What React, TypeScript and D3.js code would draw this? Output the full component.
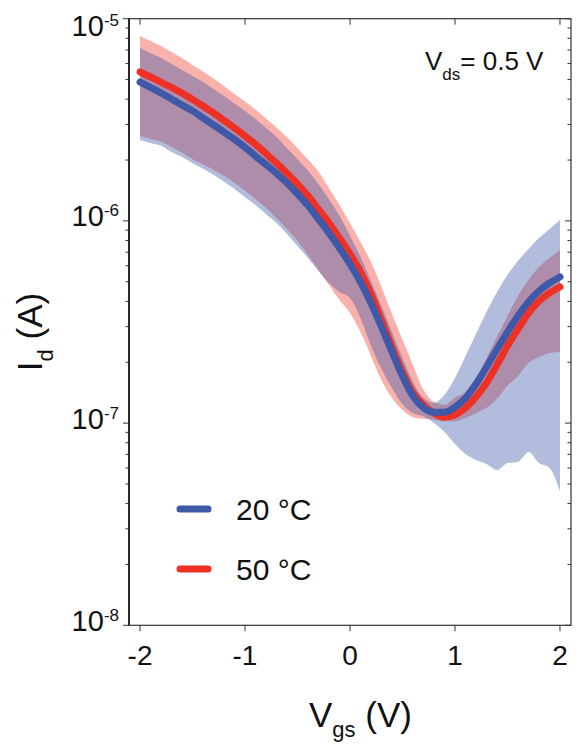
import React from "react";
import * as d3 from "d3";

// gate voltage grid (V)
const vgs = [
  -2.0, -1.9, -1.8, -1.7, -1.6, -1.5, -1.4, -1.3, -1.2, -1.1, -1.0, -0.9, -0.8, -0.7,
  -0.6, -0.5, -0.4, -0.3, -0.2, -0.1, 0.0, 0.1, 0.2, 0.3, 0.4, 0.5, 0.6, 0.7, 0.8, 0.9,
  1.0, 1.1, 1.2, 1.3, 1.4, 1.5, 1.6, 1.7, 1.8, 1.9, 2.0,
];

// 20 °C mean and spread (A)
const id20 = [
  4.86e-6, 4.57e-6, 4.29e-6, 4.01e-6, 3.74e-6, 3.5e-6, 3.23e-6, 2.98e-6, 2.75e-6, 2.53e-6,
  2.31e-6, 2.09e-6, 1.9e-6, 1.72e-6, 1.54e-6, 1.36e-6, 1.19e-6, 1.02e-6, 8.71e-7, 7.34e-7,
  6.12e-7, 4.98e-7, 3.93e-7, 2.99e-7, 2.25e-7, 1.71e-7, 1.36e-7, 1.19e-7, 1.13e-7, 1.13e-7,
  1.2e-7, 1.33e-7, 1.56e-7, 1.89e-7, 2.32e-7, 2.82e-7, 3.39e-7, 3.97e-7, 4.5e-7, 4.93e-7,
  5.28e-7,
];
const id20High = [
  7.16e-6, 6.77e-6, 6.39e-6, 5.97e-6, 5.58e-6, 5.21e-6, 4.86e-6, 4.49e-6, 4.15e-6, 3.81e-6,
  3.5e-6, 3.19e-6, 2.88e-6, 2.6e-6, 2.29e-6, 2.02e-6, 1.77e-6, 1.52e-6, 1.28e-6, 1.06e-6,
  8.42e-7, 6.63e-7, 5.04e-7, 3.79e-7, 2.82e-7, 2.1e-7, 1.6e-7, 1.33e-7, 1.26e-7, 1.38e-7,
  1.67e-7, 2.15e-7, 2.76e-7, 3.54e-7, 4.45e-7, 5.4e-7, 6.33e-7, 7.26e-7, 8.23e-7, 9.12e-7,
  1.01e-6,
];
const id20Low = [
  2.51e-6, 2.43e-6, 2.35e-6, 2.19e-6, 2.07e-6, 1.93e-6, 1.81e-6, 1.69e-6, 1.56e-6, 1.44e-6,
  1.31e-6, 1.2e-6, 1.08e-6, 9.76e-7, 8.61e-7, 7.51e-7, 6.55e-7, 5.65e-7, 4.93e-7, 4.45e-7,
  4.16e-7, 3.31e-7, 2.41e-7, 1.85e-7, 1.49e-7, 1.24e-7, 1.12e-7, 1.08e-7, 1.0e-7, 9.03e-8,
  7.88e-8, 7.03e-8, 6.57e-8, 6.27e-8, 5.86e-8, 6.34e-8, 6.42e-8, 7.19e-8, 6.34e-8, 6.0e-8,
  4.61e-8,
];

// 50 °C mean and spread (A)
const id50 = [
  5.45e-6, 5.15e-6, 4.86e-6, 4.57e-6, 4.29e-6, 3.99e-6, 3.7e-6, 3.42e-6, 3.14e-6, 2.88e-6,
  2.63e-6, 2.39e-6, 2.15e-6, 1.93e-6, 1.72e-6, 1.52e-6, 1.33e-6, 1.14e-6, 9.76e-7, 8.23e-7,
  6.86e-7, 5.59e-7, 4.35e-7, 3.23e-7, 2.38e-7, 1.79e-7, 1.41e-7, 1.23e-7, 1.12e-7, 1.07e-7,
  1.1e-7, 1.19e-7, 1.35e-7, 1.58e-7, 1.94e-7, 2.41e-7, 2.92e-7, 3.5e-7, 4.02e-7, 4.4e-7,
  4.71e-7,
];
const id50High = [
  8.21e-6, 7.76e-6, 7.33e-6, 6.85e-6, 6.39e-6, 5.9e-6, 5.48e-6, 5.06e-6, 4.65e-6, 4.24e-6,
  3.9e-6, 3.56e-6, 3.21e-6, 2.9e-6, 2.59e-6, 2.29e-6, 2.01e-6, 1.75e-6, 1.45e-6, 1.2e-6,
  9.76e-7, 7.86e-7, 6.26e-7, 4.71e-7, 3.46e-7, 2.58e-7, 1.94e-7, 1.46e-7, 1.27e-7, 1.23e-7,
  1.34e-7, 1.42e-7, 1.67e-7, 2.1e-7, 2.67e-7, 3.39e-7, 4.25e-7, 5.1e-7, 5.91e-7, 6.55e-7,
  7.18e-7,
];
const id50Low = [
  2.63e-6, 2.54e-6, 2.46e-6, 2.32e-6, 2.17e-6, 2.02e-6, 1.9e-6, 1.79e-6, 1.67e-6, 1.54e-6,
  1.41e-6, 1.28e-6, 1.16e-6, 1.03e-6, 9.12e-7, 7.95e-7, 6.78e-7, 5.71e-7, 4.82e-7, 4.06e-7,
  3.5e-7, 2.82e-7, 2.15e-7, 1.63e-7, 1.33e-7, 1.16e-7, 1.07e-7, 1.05e-7, 1.04e-7, 1.02e-7,
  1.02e-7, 1.06e-7, 1.12e-7, 1.19e-7, 1.32e-7, 1.53e-7, 1.71e-7, 1.98e-7, 2.12e-7, 2.22e-7,
  2.25e-7,
];

const xTicks = [-2, -1, 0, 1, 2];
const yExponents = [-8, -7, -6, -5];
const minorMult = [2, 3, 4, 5, 6, 7, 8, 9];
const legendLabels = ["20 °C", "50 °C"];

const BLUE = "#3f58a7";
const RED = "#ee3124";
const FONT = "'Liberation Sans', Arial, Helvetica, sans-serif";

export default function App() {
  const left = 129;
  const right = 571;
  const top = 18.7;
  const bottom = 625.3;

  const x = d3.scaleLinear().domain([-2.105, 2.105]).range([left, right]);
  const y = d3.scaleLog().domain([1e-8, 1e-5]).range([bottom, top]);
  const idx = d3.range(vgs.length);

  const line = (vals: number[]) =>
    d3
      .line<number>()
      .x((i) => x(vgs[i]))
      .y((i) => y(vals[i]))
      .curve(d3.curveMonotoneX)(idx) || "";

  const band = (lo: number[], hi: number[]) =>
    d3
      .area<number>()
      .x((i) => x(vgs[i]))
      .y0((i) => y(lo[i]))
      .y1((i) => y(hi[i]))
      .curve(d3.curveMonotoneX)(idx) || "";

  const minors: number[] = [];
  yExponents.slice(0, 3).forEach((e) => minorMult.forEach((m) => minors.push(m * Math.pow(10, e))));

  return (
    <svg
      width={578}
      height={745}
      style={{ position: "absolute", left: 0, top: 0, background: "#fff" }}
      fontFamily={FONT}
    >
      {/* bands */}
      <path d={band(id50Low, id50High)} fill={RED} fillOpacity={0.38} />
      <path d={band(id20Low, id20High)} fill={BLUE} fillOpacity={0.4} />

      {/* mean curves */}
      <path d={line(id50)} fill="none" stroke={RED} strokeWidth={7} strokeLinecap="round" />
      <path d={line(id20)} fill="none" stroke={BLUE} strokeWidth={7} strokeLinecap="round" />

      {/* frame */}
      <rect x={left} y={top} width={right - left} height={bottom - top} fill="none" stroke="#333" strokeWidth={1.2} />
      <line x1={left} x2={left} y1={top} y2={bottom} stroke="#111" strokeWidth={1.6} />

      {/* x ticks */}
      {xTicks.map((t) => (
        <g key={"xt" + t}>
          <line x1={x(t)} x2={x(t)} y1={bottom} y2={bottom + 6} stroke="#333" strokeWidth={1} />
          <line x1={x(t)} x2={x(t)} y1={top} y2={top + 6} stroke="#333" strokeWidth={1} />
          <text x={x(t)} y={665} textAnchor="middle" fontSize={28} fill="#111">
            {t}
          </text>
        </g>
      ))}

      {/* y ticks */}
      {yExponents.map((e) => {
        const ty = y(Math.pow(10, e));
        const base = Math.max(ty + 5.5, 36);
        return (
          <g key={"yt" + e}>
            <line x1={left - 6} x2={left} y1={ty} y2={ty} stroke="#333" strokeWidth={1} />
            <line x1={right - 6} x2={right} y1={ty} y2={ty} stroke="#333" strokeWidth={1} />
            <text x={119} y={base} textAnchor="end" fontSize={29} fill="#111">
              <tspan>10</tspan>
              <tspan dy={-10} fontSize={17}>
                {e}
              </tspan>
            </text>
          </g>
        );
      })}
      {minors.map((v, i) => (
        <g key={"mn" + i}>
          <line x1={left - 3.5} x2={left} y1={y(v)} y2={y(v)} stroke="#333" strokeWidth={1} />
          <line x1={right - 3.5} x2={right} y1={y(v)} y2={y(v)} stroke="#333" strokeWidth={1} />
        </g>
      ))}

      {/* axis titles */}
      <text x={360.5} y={726.7} textAnchor="middle" fontSize={35} fill="#111">
        <tspan>V</tspan>
        <tspan dy={10} fontSize={22}>
          gs
        </tspan>
        <tspan dy={-10}> (V)</tspan>
      </text>
      <text transform="translate(42,332) rotate(-90)" textAnchor="middle" fontSize={35} fill="#111">
        <tspan>I</tspan>
        <tspan dy={11} fontSize={22}>
          d
        </tspan>
        <tspan dy={-11}> (A)</tspan>
      </text>

      {/* annotation */}
      <text x={425} y={70} fontSize={26} fill="#111">
        <tspan>V</tspan>
        <tspan dy={10} fontSize={17}>
          ds
        </tspan>
        <tspan dy={-10}>= 0.5 V</tspan>
      </text>

      {/* legend */}
      {legendLabels.map((lab, i) => {
        const ly = 509 + i * 60;
        return (
          <g key={lab}>
            <line x1={180} x2={208} y1={ly} y2={ly} stroke={i === 0 ? BLUE : RED} strokeWidth={7} strokeLinecap="round" />
            <text x={236} y={ly + 11} fontSize={30} fill="#111">
              {lab}
            </text>
          </g>
        );
      })}
    </svg>
  );
}
